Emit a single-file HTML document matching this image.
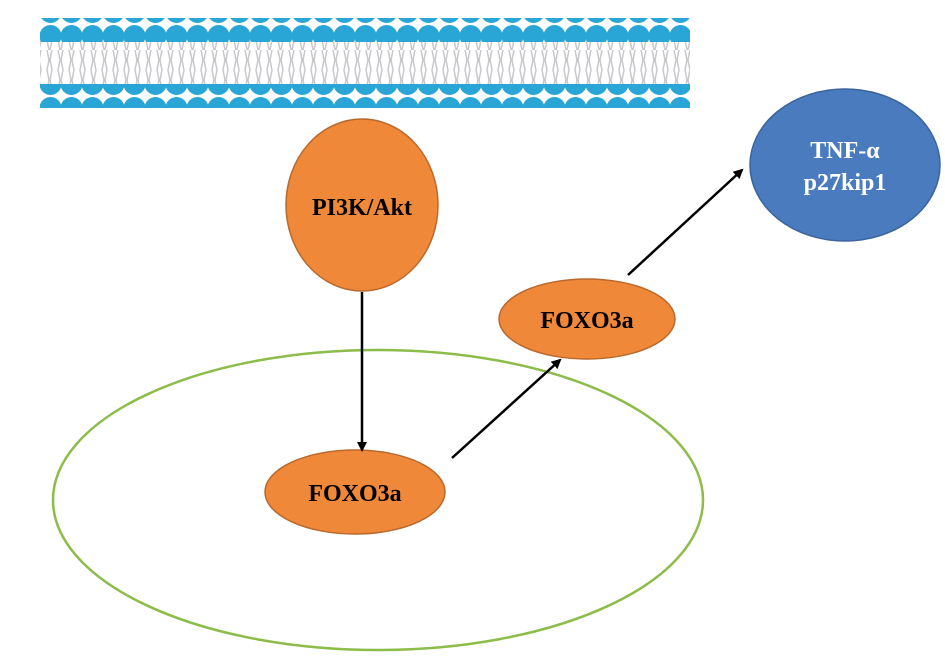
<!DOCTYPE html>
<html><head><style>body{margin:0;background:#fff}</style></head><body>
<svg width="945" height="659" xmlns="http://www.w3.org/2000/svg">
<defs>
<marker id="a" markerWidth="10" markerHeight="10" refX="8" refY="5" orient="auto" markerUnits="userSpaceOnUse"><path d="M0,0 L10,5 L0,10 z" fill="#000"/></marker>
<pattern id="tails" width="11" height="50" patternUnits="userSpaceOnUse">
<path d="M3,0 l2,10 l-2,10 l2,10 l-2,10 l2,10 M8,0 l-2,10 l2,10 l-2,10 l2,10 l-2,10" stroke="#c8c8cc" stroke-width="1.5" fill="none"/>
</pattern>
<pattern id="heads" width="21" height="24" patternUnits="userSpaceOnUse" x="40">
<circle cx="10.5" cy="12" r="11" fill="#2aa6d6"/>
</pattern>
</defs>
<rect x="40" y="40" width="650" height="48" fill="url(#tails)"/>
<rect x="40" y="18" width="650" height="24" fill="url(#heads)"/>
<rect x="40" y="84" width="650" height="24" fill="url(#heads)"/>
<ellipse cx="378" cy="500" rx="325" ry="150" fill="none" stroke="#8cbc4a" stroke-width="2.5"/>
<ellipse cx="362" cy="205" rx="76" ry="86" fill="#f0883a" stroke="#b8692c" stroke-width="1.5"/>
<ellipse cx="845" cy="165" rx="95" ry="76" fill="#4a7bbf" stroke="#3a649c" stroke-width="1.5"/>
<ellipse cx="587" cy="319" rx="88" ry="40" fill="#f0883a" stroke="#b8692c" stroke-width="1.5"/>
<ellipse cx="355" cy="492" rx="90" ry="42" fill="#f0883a" stroke="#b8692c" stroke-width="1.5"/>
<g stroke="#000" stroke-width="2.5" marker-end="url(#a)">
<line x1="362" y1="292" x2="362" y2="450"/>
<line x1="452" y1="458" x2="560" y2="360"/>
<line x1="628" y1="275" x2="742" y2="170"/>
</g>
<g font-family="Liberation Serif, serif" font-weight="bold" font-size="24" text-anchor="middle">
<text x="362" y="215">PI3K/Akt</text>
<text x="587" y="328">FOXO3a</text>
<text x="355" y="501">FOXO3a</text>
<text x="845" y="158" fill="#fff">TNF-α</text>
<text x="845" y="190" fill="#fff">p27kip1</text>
</g>
</svg>
</body></html>
